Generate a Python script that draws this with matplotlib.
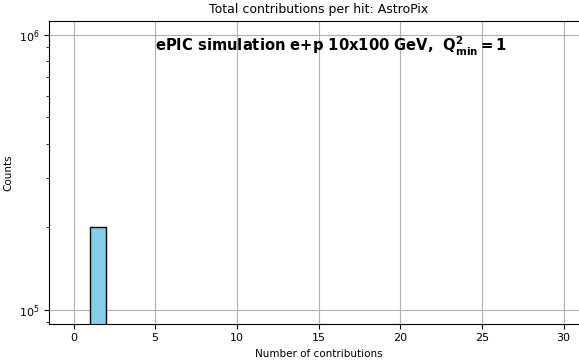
"""
Total contributions per hit histogram for AstroPix
"""
import numpy as np
import matplotlib.pyplot as plt

# histogram data: number of contributions per hit
bin_edges = np.arange(0, 32)
counts = np.zeros(31)
counts[1] = 2.0e5

fig = plt.figure(figsize=(5.79, 3.62), dpi=100)
ax = fig.add_axes([49 / 579, 0.1058, 539 / 579, 0.836])

ax.bar(bin_edges[:-1], counts, width=1, align='edge',
       color='skyblue', edgecolor='black', linewidth=1.0)
ax.set_yscale('log')
ax.set_xlim(-1.5, 31.5)
ax.set_ylim(8.9e4, 1.12e6)
ax.set_xticks(np.arange(0, 31, 5))
ax.grid(True, which='major', color='#b0b0b0', linewidth=0.8)
ax.set_axisbelow(True)
ax.tick_params(labelsize=8)

ax.set_title("Total contributions per hit: AstroPix", fontsize=9)
ax.set_xlabel("Number of contributions", fontsize=7.5)
ax.set_ylabel("Counts", fontsize=7.5)
ax.text(0.197, 0.955, r"ePIC simulation e+p 10x100 GeV, $\ \mathbf{Q^2_{min}=1}$",
        transform=ax.transAxes, fontsize=10.6, fontweight='bold',
        ha='left', va='top')

fig.savefig("out.png", dpi=100)
